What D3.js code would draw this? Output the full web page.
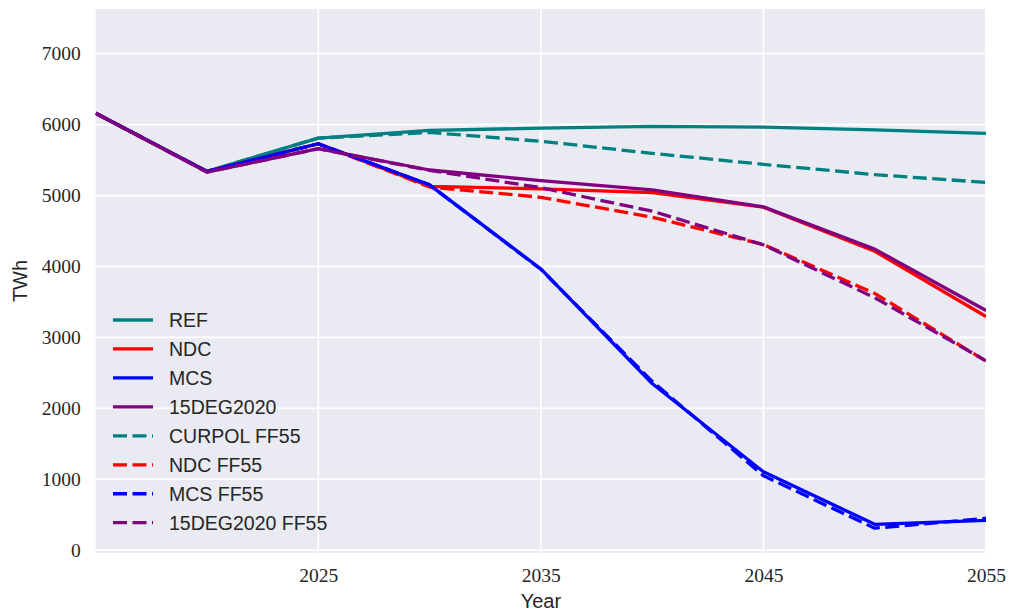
<!DOCTYPE html>
<html>
<head>
<meta charset="utf-8">
<script src="https://cdn.jsdelivr.net/npm/d3@7"></script>
<style>
  html, body { margin: 0; padding: 0; background: #ffffff; }
  svg { display: block; }
</style>
</head>
<body>
<svg id="chart" width="1009" height="611"></svg>
<script>
// Electricity demand scenarios (TWh), 5-year steps
const years = [2015, 2020, 2025, 2030, 2035, 2040, 2045, 2050, 2055];

const ref        = [6160, 5340, 5810, 5920, 5950, 5975, 5965, 5925, 5875];
const ndc        = [6160, 5340, 5730, 5130, 5095, 5040, 4835, 4215, 3295];
const mcs        = [6160, 5340, 5730, 5150, 3965, 2350, 1105, 365, 420];
const deg15      = [6160, 5330, 5660, 5360, 5210, 5080, 4840, 4245, 3380];
const curpolFF55 = [6160, 5340, 5810, 5890, 5765, 5595, 5440, 5295, 5185];
const ndcFF55    = [6160, 5340, 5730, 5120, 4975, 4695, 4310, 3620, 2665];
const mcsFF55    = [6160, 5340, 5730, 5150, 3960, 2380, 1050, 310, 450];
const deg15FF55  = [6160, 5330, 5660, 5355, 5110, 4780, 4305, 3560, 2670];

const seriesNames = ["REF", "NDC", "MCS", "15DEG2020",
                     "CURPOL FF55", "NDC FF55", "MCS FF55", "15DEG2020 FF55"];
const seriesValues = [ref, ndc, mcs, deg15, curpolFF55, ndcFF55, mcsFF55, deg15FF55];
const seriesColors = ["#008080", "#ff0000", "#0000ff", "#800080",
                      "#008080", "#ff0000", "#0000ff", "#800080"];
const seriesDashed = [false, false, false, false, true, true, true, true];

const xTicks = [2025, 2035, 2045, 2055];
const yTicks = [0, 1000, 2000, 3000, 4000, 5000, 6000, 7000];

const svg = d3.select("#chart");
const plot = { left: 95.7, right: 986, top: 9, bottom: 553 };

const x = d3.scaleLinear().domain([2015, 2055]).range([plot.left, plot.right]);
const y = d3.scaleLinear().domain([-40, 7630]).range([plot.bottom, plot.top]);

// axes background
svg.append("rect")
  .attr("x", plot.left).attr("y", plot.top)
  .attr("width", plot.right - plot.left).attr("height", plot.bottom - plot.top)
  .attr("fill", "#eaeaf2");

svg.append("clipPath").attr("id", "plot-clip")
  .append("rect")
  .attr("x", plot.left).attr("y", plot.top)
  .attr("width", plot.right - plot.left).attr("height", plot.bottom - plot.top);

// grid lines
const grid = svg.append("g").attr("clip-path", "url(#plot-clip)");
grid.selectAll("line.gy").data(yTicks).join("line")
  .attr("x1", plot.left).attr("x2", plot.right)
  .attr("y1", d => y(d)).attr("y2", d => y(d))
  .attr("stroke", "#ffffff").attr("stroke-width", 1.7);
grid.selectAll("line.gx").data(xTicks).join("line")
  .attr("y1", plot.top).attr("y2", plot.bottom)
  .attr("x1", d => x(d)).attr("x2", d => x(d))
  .attr("stroke", "#ffffff").attr("stroke-width", 1.7);

// axes (tick labels only)
const tickFont = "'Liberation Serif', 'Times New Roman', serif";
const xAxis = svg.append("g")
  .attr("transform", `translate(0,${plot.bottom})`)
  .call(d3.axisBottom(x).tickValues(xTicks).tickFormat(d3.format("d")).tickSize(0).tickPadding(15));
const yAxis = svg.append("g")
  .attr("transform", `translate(${plot.left},0)`)
  .call(d3.axisLeft(y).tickValues(yTicks).tickFormat(d3.format("d")).tickSize(0).tickPadding(15));
[xAxis, yAxis].forEach(a => {
  a.select(".domain").remove();
  a.selectAll("text")
    .attr("fill", "#262626")
    .style("font-family", tickFont)
    .style("font-size", "19.5px");
});

// axis titles
const labelFont = "'Liberation Sans', Arial, sans-serif";
svg.append("text")
  .attr("x", (plot.left + plot.right) / 2).attr("y", 608)
  .attr("text-anchor", "middle")
  .attr("fill", "#262626")
  .style("font-family", labelFont).style("font-size", "20px")
  .text("Year");
svg.append("text")
  .attr("transform", `translate(27,${(plot.top + plot.bottom) / 2}) rotate(-90)`)
  .attr("text-anchor", "middle")
  .attr("fill", "#262626")
  .style("font-family", labelFont).style("font-size", "20px")
  .text("TWh");

// scenario lines
const line = d3.line().x((d, i) => x(years[i])).y(d => y(d));
const lines = svg.append("g").attr("clip-path", "url(#plot-clip)");
seriesValues.forEach((vals, k) => {
  lines.append("path")
    .datum(vals)
    .attr("d", line)
    .attr("fill", "none")
    .attr("stroke", seriesColors[k])
    .attr("stroke-width", 3.3)
    .attr("stroke-linejoin", "round")
    .attr("stroke-dasharray", seriesDashed[k] ? "14,5.5" : null);
});

// legend
const legend = svg.append("g");
const rowY = d3.scaleLinear().domain([0, 7]).range([320, 522.7]);
seriesNames.forEach((name, k) => {
  const yy = rowY(k);
  legend.append("line")
    .attr("x1", 113).attr("x2", 153).attr("y1", yy).attr("y2", yy)
    .attr("stroke", seriesColors[k]).attr("stroke-width", 3.3)
    .attr("stroke-dasharray", seriesDashed[k] ? "14,5.5" : null);
  legend.append("text")
    .attr("x", 169).attr("y", yy).attr("dy", "0.35em")
    .attr("fill", "#262626")
    .style("font-family", labelFont).style("font-size", "19.5px")
    .text(name);
});
</script>
</body>
</html>
